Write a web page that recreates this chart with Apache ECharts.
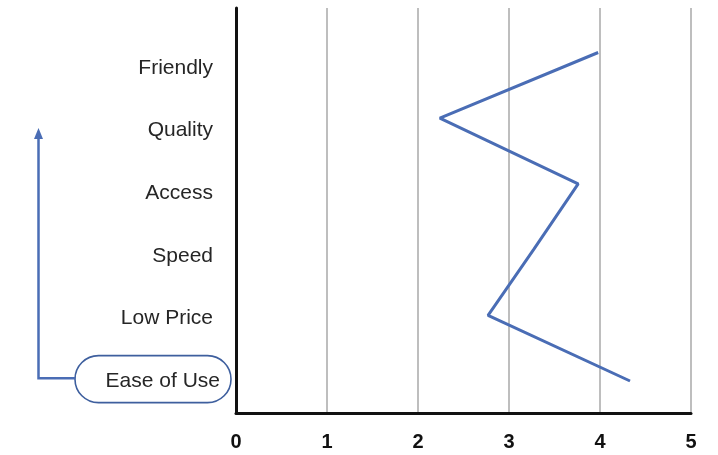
<!DOCTYPE html>
<html>
<head>
<meta charset="utf-8">
<script src="https://cdn.jsdelivr.net/npm/echarts@6/dist/echarts.min.js"></script>
<style>
  html, body { margin: 0; padding: 0; background: #fff; }
  #chart { width: 718px; height: 455px; }
</style>
</head>
<body>
<div id="chart"></div>
<script>
// Attributes, listed bottom to top
const attributes = ['Ease of Use', 'Low Price', 'Speed', 'Access', 'Quality', 'Friendly'];
// Rating per attribute (0–5 scale)
const ratings = [4.33, 2.77, 3.27, 3.76, 2.24, 3.98];
// Scale tick labels
const scaleTicks = [0, 1, 2, 3, 4, 5];

const LEFT = 236, RIGHT = 27;
const blue = '#4a6db5';
const FONT = 'Liberation Sans, Arial, sans-serif';

const chart = echarts.init(document.getElementById('chart'), null, { renderer: 'canvas' });

const option = {
  animation: false,
  grid: [
    // frame with scale and vertical grid lines
    { left: LEFT, right: RIGHT, top: 8, bottom: 42, containLabel: false },
    // attribute labels
    { left: LEFT, right: RIGHT, top: 36.5, bottom: 42.5, containLabel: false },
    // profile line
    { left: LEFT, right: RIGHT, top: 52.5, bottom: 74, containLabel: false }
  ],
  xAxis: [
    {
      gridIndex: 0, type: 'value', min: scaleTicks[0], max: scaleTicks[scaleTicks.length - 1], interval: 1,
      axisLine: { show: true, lineStyle: { color: '#111', width: 3 } },
      axisTick: { show: false },
      splitLine: { show: true, lineStyle: { color: '#a8a8a8', width: 1.5 } },
      axisLabel: { margin: 19, fontFamily: FONT, fontWeight: 'bold', fontSize: 20, color: '#111',
        formatter: v => scaleTicks.includes(v) ? String(v) : '' }
    },
    { gridIndex: 1, type: 'value', min: 0, max: 5, show: false },
    { gridIndex: 2, type: 'value', min: 0, max: 5, show: false }
  ],
  yAxis: [
    {
      gridIndex: 0, type: 'value', min: 0, max: 1,
      axisLine: { show: true, lineStyle: { color: '#111', width: 3 } },
      axisTick: { show: false }, axisLabel: { show: false }, splitLine: { show: false }
    },
    {
      gridIndex: 1, type: 'category', data: attributes, boundaryGap: true,
      axisLine: { show: false }, axisTick: { show: false }, splitLine: { show: false },
      axisLabel: {
        margin: 16, fontFamily: FONT, fontSize: 21, color: '#262626',
        // the highlighted first attribute sits a little further right, inside its callout
        formatter: (v, i) => i === 0 ? '{hl|' + v + '}' : '{std|' + v + '}',
        rich: {
          std: { fontFamily: FONT, fontSize: 21, color: '#262626', padding: [0, 7, 0, 0] },
          hl: { fontFamily: FONT, fontSize: 21, color: '#262626', padding: [0, 0, 0, 0] }
        }
      }
    },
    {
      gridIndex: 2, type: 'category', data: attributes, boundaryGap: false, show: false
    }
  ],
  series: [
    {
      type: 'line', xAxisIndex: 2, yAxisIndex: 2,
      data: ratings.map((r, i) => [r, attributes[i]]),
      showSymbol: false, symbol: 'none',
      lineStyle: { color: blue, width: 3 },
      z: 5
    }
  ]
};
chart.setOption(option);

// Callout around the first attribute with an arrow pointing up the list
const labelY = chart.convertToPixel({ yAxisIndex: 1 }, attributes[0]);
const boxL = 75, boxR = 231, boxH = 47;
const boxTop = labelY - boxH / 2 - 2;
const arrowX = 38.5, arrowTop = 128;
chart.setOption({
  graphic: [
    {
      type: 'rect', shape: { x: boxL, y: boxTop, width: boxR - boxL, height: boxH, r: boxH / 2 },
      style: { fill: 'none', stroke: '#3e5f9e', lineWidth: 1.6 }, z: 10
    },
    {
      type: 'polyline',
      shape: { points: [[boxL, labelY - 3], [arrowX, labelY - 3], [arrowX, arrowTop + 9]] },
      style: { fill: 'none', stroke: blue, lineWidth: 2.5 }, z: 10
    },
    {
      type: 'polygon',
      shape: { points: [[arrowX, arrowTop], [arrowX - 4.5, arrowTop + 11], [arrowX + 4.5, arrowTop + 11]] },
      style: { fill: blue }, z: 10
    }
  ]
});
</script>
</body>
</html>
